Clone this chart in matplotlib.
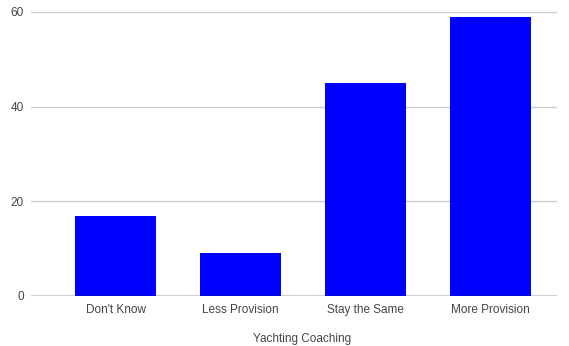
import matplotlib
matplotlib.use("Agg")
from matplotlib import pyplot as plt

categories = ["Don't Know", "Less Provision", "Stay the Same", "More Provision"]
counts = [17, 9, 45, 59]
y_ticks = [0, 20, 40, 60]

plt.rcParams['font.family'] = ['Liberation Sans', 'DejaVu Sans']

fig = plt.figure(figsize=(5.69, 3.46), dpi=100)
ax = fig.add_axes([31 / 569, 1 - 296 / 346, 526 / 569, 284 / 346])

x = list(range(len(categories)))
ax.bar(x, counts, width=0.65, color="#0000ff", zorder=3)

ax.set_ylim(0, 60)
ax.set_xlim(-0.676, 3.53)
ax.set_yticks(y_ticks)
ax.set_xticks(x)
ax.set_xticklabels(categories)
ax.grid(axis="y", color="#cccccc", linewidth=1, zorder=0)
ax.axhline(0, color="#333333", linewidth=1, zorder=4)

for side in ["top", "right", "left", "bottom"]:
    ax.spines[side].set_visible(False)
ax.tick_params(axis="both", length=0, labelsize=8.5, colors="#444444")
ax.tick_params(axis="y", pad=5)
ax.tick_params(axis="x", pad=6)

# axis title sits a little right of the plot centre, as in the original
fig.text(302.5 / 569, 1 - 339 / 346, "Yachting Coaching", fontsize=8.5,
         color="#444444", ha="center", va="center")

fig.savefig("out.png", dpi=100)
